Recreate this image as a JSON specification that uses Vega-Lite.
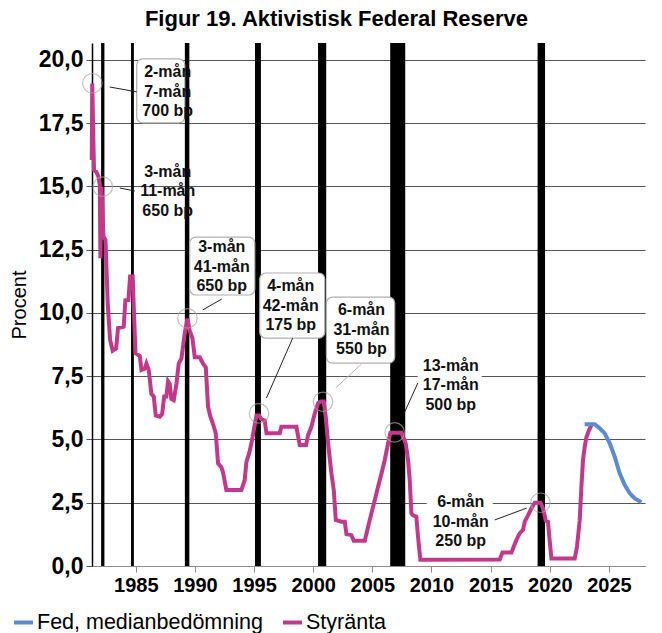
{
  "$schema": "https://vega.github.io/schema/vega-lite/v6.json",
  "description": "Figur 19. Aktivistisk Federal Reserve: styränta och Feds medianbedömning, med pauser markerade",
  "width": 553,
  "height": 523,
  "autosize": {"type": "none"},
  "padding": {"left": 92, "top": 43, "right": 17, "bottom": 67},
  "background": "white",
  "config": {"view": {"stroke": null}, "font": "Liberation Sans"},
  "title": {
    "text": "Figur 19. Aktivistisk Federal Reserve",
    "fontSize": 22,
    "fontWeight": "bold",
    "color": "black",
    "anchor": "middle",
    "dx": -32,
    "offset": 12
  },
  "datasets": {
    "pauser": [
      {"start": 1982.07, "end": 1982.35},
      {"start": 1984.6, "end": 1984.84},
      {"start": 1989.15, "end": 1989.53},
      {"start": 1995.08, "end": 1995.58},
      {"start": 2000.41, "end": 2001.1},
      {"start": 2006.51, "end": 2007.78},
      {"start": 2018.97, "end": 2019.6}
    ],
    "ranta": [
      {"year": 1981.28, "value": 16.05, "serie": "Styränta"},
      {"year": 1981.32, "value": 19.07, "serie": "Styränta"},
      {"year": 1981.47, "value": 15.65, "serie": "Styränta"},
      {"year": 1981.65, "value": 15.59, "serie": "Styränta"},
      {"year": 1981.85, "value": 15.39, "serie": "Styränta"},
      {"year": 1981.96, "value": 15.06, "serie": "Styränta"},
      {"year": 1982.01, "value": 12.16, "serie": "Styränta"},
      {"year": 1982.1, "value": 14.99, "serie": "Styränta"},
      {"year": 1982.27, "value": 13.02, "serie": "Styränta"},
      {"year": 1982.44, "value": 12.89, "serie": "Styränta"},
      {"year": 1982.63, "value": 10.38, "serie": "Styränta"},
      {"year": 1982.83, "value": 8.93, "serie": "Styränta"},
      {"year": 1983.05, "value": 8.51, "serie": "Styränta"},
      {"year": 1983.34, "value": 8.6, "serie": "Styränta"},
      {"year": 1983.5, "value": 9.4, "serie": "Styränta"},
      {"year": 1983.98, "value": 9.46, "serie": "Styränta"},
      {"year": 1984.12, "value": 10.5, "serie": "Styränta"},
      {"year": 1984.38, "value": 10.51, "serie": "Styränta"},
      {"year": 1984.52, "value": 11.44, "serie": "Styränta"},
      {"year": 1984.74, "value": 11.44, "serie": "Styränta"},
      {"year": 1984.86, "value": 9.86, "serie": "Styränta"},
      {"year": 1984.98, "value": 8.41, "serie": "Styränta"},
      {"year": 1985.34, "value": 8.3, "serie": "Styränta"},
      {"year": 1985.48, "value": 7.75, "serie": "Styränta"},
      {"year": 1985.76, "value": 7.8, "serie": "Styränta"},
      {"year": 1985.9, "value": 8.0, "serie": "Styränta"},
      {"year": 1986.1, "value": 7.75, "serie": "Styränta"},
      {"year": 1986.32, "value": 6.8, "serie": "Styränta"},
      {"year": 1986.52, "value": 6.7, "serie": "Styränta"},
      {"year": 1986.69, "value": 5.95, "serie": "Styränta"},
      {"year": 1987.03, "value": 5.9, "serie": "Styränta"},
      {"year": 1987.23, "value": 6.0, "serie": "Styränta"},
      {"year": 1987.4, "value": 6.7, "serie": "Styränta"},
      {"year": 1987.59, "value": 6.7, "serie": "Styränta"},
      {"year": 1987.73, "value": 7.3, "serie": "Styränta"},
      {"year": 1987.87, "value": 7.2, "serie": "Styränta"},
      {"year": 1988.01, "value": 6.6, "serie": "Styränta"},
      {"year": 1988.21, "value": 6.55, "serie": "Styränta"},
      {"year": 1988.44, "value": 7.2, "serie": "Styränta"},
      {"year": 1988.63, "value": 8.0, "serie": "Styränta"},
      {"year": 1988.86, "value": 8.2, "serie": "Styränta"},
      {"year": 1989.14, "value": 9.2, "serie": "Styränta"},
      {"year": 1989.37, "value": 9.78, "serie": "Styränta"},
      {"year": 1989.56, "value": 9.3, "serie": "Styränta"},
      {"year": 1989.79, "value": 9.0, "serie": "Styränta"},
      {"year": 1989.99, "value": 8.25, "serie": "Styränta"},
      {"year": 1990.41, "value": 8.25, "serie": "Styränta"},
      {"year": 1990.69, "value": 8.0, "serie": "Styränta"},
      {"year": 1990.92, "value": 7.85, "serie": "Styränta"},
      {"year": 1991.11, "value": 6.3, "serie": "Styränta"},
      {"year": 1991.31, "value": 5.9, "serie": "Styränta"},
      {"year": 1991.54, "value": 5.6, "serie": "Styränta"},
      {"year": 1991.76, "value": 5.25, "serie": "Styränta"},
      {"year": 1991.96, "value": 4.05, "serie": "Styränta"},
      {"year": 1992.24, "value": 3.9, "serie": "Styränta"},
      {"year": 1992.38, "value": 3.7, "serie": "Styränta"},
      {"year": 1992.66, "value": 3.0, "serie": "Styränta"},
      {"year": 1993.93, "value": 3.0, "serie": "Styränta"},
      {"year": 1994.21, "value": 3.4, "serie": "Styränta"},
      {"year": 1994.35, "value": 4.1, "serie": "Styränta"},
      {"year": 1994.58, "value": 4.45, "serie": "Styränta"},
      {"year": 1994.78, "value": 4.85, "serie": "Styränta"},
      {"year": 1994.97, "value": 5.35, "serie": "Styränta"},
      {"year": 1995.2, "value": 5.95, "serie": "Styränta"},
      {"year": 1995.43, "value": 5.95, "serie": "Styränta"},
      {"year": 1995.62, "value": 5.8, "serie": "Styränta"},
      {"year": 1995.9, "value": 5.75, "serie": "Styränta"},
      {"year": 1996.05, "value": 5.25, "serie": "Styränta"},
      {"year": 1997.17, "value": 5.25, "serie": "Styränta"},
      {"year": 1997.31, "value": 5.5, "serie": "Styränta"},
      {"year": 1998.58, "value": 5.5, "serie": "Styränta"},
      {"year": 1998.86, "value": 4.78, "serie": "Styränta"},
      {"year": 1999.4, "value": 4.78, "serie": "Styränta"},
      {"year": 1999.57, "value": 5.18, "serie": "Styränta"},
      {"year": 1999.85, "value": 5.5, "serie": "Styränta"},
      {"year": 2000.13, "value": 6.03, "serie": "Styränta"},
      {"year": 2000.41, "value": 6.43, "serie": "Styränta"},
      {"year": 2000.61, "value": 6.5, "serie": "Styränta"},
      {"year": 2000.89, "value": 6.5, "serie": "Styränta"},
      {"year": 2001.06, "value": 5.9, "serie": "Styränta"},
      {"year": 2001.26, "value": 4.85, "serie": "Styränta"},
      {"year": 2001.54, "value": 3.66, "serie": "Styränta"},
      {"year": 2001.74, "value": 3.0, "serie": "Styränta"},
      {"year": 2001.91, "value": 1.82, "serie": "Styränta"},
      {"year": 2002.39, "value": 1.75, "serie": "Styränta"},
      {"year": 2002.67, "value": 1.75, "serie": "Styränta"},
      {"year": 2002.81, "value": 1.26, "serie": "Styränta"},
      {"year": 2003.23, "value": 1.22, "serie": "Styränta"},
      {"year": 2003.43, "value": 1.0, "serie": "Styränta"},
      {"year": 2004.36, "value": 1.0, "serie": "Styränta"},
      {"year": 2004.64, "value": 1.55, "serie": "Styränta"},
      {"year": 2004.92, "value": 2.08, "serie": "Styränta"},
      {"year": 2005.2, "value": 2.6, "serie": "Styränta"},
      {"year": 2005.49, "value": 3.14, "serie": "Styränta"},
      {"year": 2005.77, "value": 3.66, "serie": "Styränta"},
      {"year": 2006.05, "value": 4.19, "serie": "Styränta"},
      {"year": 2006.33, "value": 4.85, "serie": "Styränta"},
      {"year": 2006.53, "value": 5.27, "serie": "Styränta"},
      {"year": 2007.46, "value": 5.27, "serie": "Styränta"},
      {"year": 2007.6, "value": 5.1, "serie": "Styränta"},
      {"year": 2007.82, "value": 4.85, "serie": "Styränta"},
      {"year": 2008.02, "value": 4.19, "serie": "Styränta"},
      {"year": 2008.16, "value": 3.4, "serie": "Styränta"},
      {"year": 2008.3, "value": 2.08, "serie": "Styränta"},
      {"year": 2008.44, "value": 2.0, "serie": "Styränta"},
      {"year": 2008.72, "value": 1.95, "serie": "Styränta"},
      {"year": 2008.86, "value": 1.16, "serie": "Styränta"},
      {"year": 2009.06, "value": 0.25, "serie": "Styränta"},
      {"year": 2015.77, "value": 0.26, "serie": "Styränta"},
      {"year": 2016.0, "value": 0.53, "serie": "Styränta"},
      {"year": 2016.76, "value": 0.53, "serie": "Styränta"},
      {"year": 2016.95, "value": 0.76, "serie": "Styränta"},
      {"year": 2017.18, "value": 1.03, "serie": "Styränta"},
      {"year": 2017.46, "value": 1.3, "serie": "Styränta"},
      {"year": 2017.74, "value": 1.42, "serie": "Styränta"},
      {"year": 2017.88, "value": 1.75, "serie": "Styränta"},
      {"year": 2018.16, "value": 2.0, "serie": "Styränta"},
      {"year": 2018.45, "value": 2.28, "serie": "Styränta"},
      {"year": 2018.73, "value": 2.5, "serie": "Styränta"},
      {"year": 2019.21, "value": 2.5, "serie": "Styränta"},
      {"year": 2019.43, "value": 2.28, "serie": "Styränta"},
      {"year": 2019.66, "value": 1.8, "serie": "Styränta"},
      {"year": 2019.85, "value": 1.75, "serie": "Styränta"},
      {"year": 2019.99, "value": 1.0, "serie": "Styränta"},
      {"year": 2020.14, "value": 0.3, "serie": "Styränta"},
      {"year": 2022.11, "value": 0.3, "serie": "Styränta"},
      {"year": 2022.3, "value": 0.76, "serie": "Styränta"},
      {"year": 2022.53, "value": 1.8, "serie": "Styränta"},
      {"year": 2022.67, "value": 3.1, "serie": "Styränta"},
      {"year": 2022.81, "value": 4.2, "serie": "Styränta"},
      {"year": 2022.95, "value": 4.7, "serie": "Styränta"},
      {"year": 2023.1, "value": 5.1, "serie": "Styränta"},
      {"year": 2023.32, "value": 5.37, "serie": "Styränta"},
      {"year": 2023.52, "value": 5.57, "serie": "Styränta"},
      {"year": 2022.95, "value": 5.6, "serie": "Fed, medianbedömning"},
      {"year": 2023.8, "value": 5.6, "serie": "Fed, medianbedömning"},
      {"year": 2024.22, "value": 5.44, "serie": "Fed, medianbedömning"},
      {"year": 2024.65, "value": 5.24, "serie": "Fed, medianbedömning"},
      {"year": 2025.07, "value": 4.85, "serie": "Fed, medianbedömning"},
      {"year": 2025.49, "value": 4.32, "serie": "Fed, medianbedömning"},
      {"year": 2025.91, "value": 3.66, "serie": "Fed, medianbedömning"},
      {"year": 2026.34, "value": 3.2, "serie": "Fed, medianbedömning"},
      {"year": 2026.76, "value": 2.87, "serie": "Fed, medianbedömning"},
      {"year": 2027.18, "value": 2.67, "serie": "Fed, medianbedömning"},
      {"year": 2027.75, "value": 2.52, "serie": "Fed, medianbedömning"}
    ],
    "rutor": [
      {"x1": 1985.08, "x2": 1989.14, "y1": 20.04, "y2": 17.51, "typ": "ram"},
      {"x1": 1989.56, "x2": 1995.06, "y1": 13.0, "y2": 10.71, "typ": "ram"},
      {"x1": 1995.48, "x2": 2000.98, "y1": 11.58, "y2": 9.01, "typ": "ram"},
      {"x1": 2001.12, "x2": 2006.89, "y1": 10.63, "y2": 8.02, "typ": "ram"},
      {"x1": 2008.84, "x2": 2014.25, "y1": 8.34, "y2": 6.01, "typ": "fri"},
      {"x1": 2009.6, "x2": 2015.18, "y1": 3.0, "y2": 0.55, "typ": "fri"}
    ],
    "noter": [
      {"id": 1, "text": "2-mån\n7-mån\n700 bp", "tx": 1987.7, "ty": 18.74, "cx": 1981.33, "cy": 19.08, "lx1": 1982.8, "ly1": 18.93, "lx2": 1985.08, "ly2": 18.74},
      {"id": 2, "text": "3-mån\n11-mån\n650 bp", "tx": 1987.7, "ty": 14.82, "cx": 1982.21, "cy": 14.99, "lx1": 1983.65, "ly1": 14.94, "lx2": 1984.92, "ly2": 14.82},
      {"id": 3, "text": "3-mån\n41-mån\n650 bp", "tx": 1992.27, "ty": 11.82, "cx": 1989.37, "cy": 9.79, "lx1": 1990.66, "ly1": 10.12, "lx2": 1992.27, "ly2": 10.55},
      {"id": 4, "text": "4-mån\n42-mån\n175 bp", "tx": 1998.1, "ty": 10.28, "cx": 1995.42, "cy": 6.03, "lx1": 1996.05, "ly1": 6.64, "lx2": 1998.27, "ly2": 9.01},
      {"id": 5, "text": "6-mån\n31-mån\n550 bp", "tx": 2004.08, "ty": 9.33, "cx": 2000.83, "cy": 6.49, "lx1": 2001.91, "ly1": 7.04, "lx2": 2004.08, "ly2": 7.98},
      {"id": 6, "text": "13-mån\n17-mån\n500 bp", "tx": 2011.63, "ty": 7.15, "cx": 2006.89, "cy": 5.28, "lx1": 2007.74, "ly1": 6.09, "lx2": 2008.84, "ly2": 7.23},
      {"id": 7, "text": "6-mån\n10-mån\n250 bp", "tx": 2012.47, "ty": 1.74, "cx": 2019.21, "cy": 2.5, "lx1": 2015.35, "ly1": 1.82, "lx2": 2018.05, "ly2": 2.29}
    ]
  },
  "layer": [
    {
      "data": {"name": "pauser"},
      "mark": {"type": "rect", "color": "black"},
      "encoding": {
        "x": {
          "field": "start",
          "type": "quantitative",
          "scale": {"domain": [1981.3, 2028.05], "nice": false, "zero": false},
          "axis": {
            "values": [1985, 1990, 1995, 2000, 2005, 2010, 2015, 2020, 2025],
            "format": "d",
            "title": null,
            "grid": false,
            "labelFontSize": 20,
            "labelFontWeight": "bold",
            "labelColor": "black",
            "labelPadding": 3,
            "labelFlush": false,
            "domainColor": "#8c8c8c",
            "tickColor": "#8c8c8c",
            "tickSize": 6
          }
        },
        "x2": {"field": "end"}
      }
    },
    {
      "data": {"name": "rutor"},
      "transform": [{"filter": "datum.typ == 'ram'"}],
      "mark": {"type": "rect", "fill": "white", "stroke": "#b0b0b0", "strokeWidth": 1.2, "cornerRadius": 6},
      "encoding": {
        "x": {"field": "x1", "type": "quantitative", "title": null},
        "x2": {"field": "x2"},
        "y": {
          "field": "y1",
          "type": "quantitative",
          "scale": {"domain": [0, 20.67], "nice": false},
          "axis": {
            "values": [0, 2.5, 5, 7.5, 10, 12.5, 15, 17.5, 20],
            "labelExpr": "replace(format(datum.value, '.1f'), '.', ',')",
            "title": "Procent",
            "titleFontSize": 20,
            "titleFontWeight": "normal",
            "titleColor": "black",
            "titlePadding": 9,
            "labelFontSize": 23,
            "labelFontWeight": "bold",
            "labelColor": "black",
            "labelPadding": 3,
            "grid": true,
            "gridColor": "#555555",
            "gridWidth": 1,
            "domainColor": "black",
            "domainWidth": 1.5,
            "tickColor": "#555555",
            "tickSize": 6
          }
        },
        "y2": {"field": "y2"}
      }
    },
    {
      "data": {"name": "rutor"},
      "transform": [{"filter": "datum.typ == 'fri'"}],
      "mark": {"type": "rect", "fill": "white"},
      "encoding": {
        "x": {"field": "x1", "type": "quantitative", "title": null},
        "x2": {"field": "x2"},
        "y": {"field": "y1", "type": "quantitative", "title": "Procent"},
        "y2": {"field": "y2"}
      }
    },
    {
      "data": {"name": "noter"},
      "mark": {"type": "rule", "strokeWidth": 1},
      "encoding": {
        "x": {"field": "lx1", "type": "quantitative", "title": null},
        "x2": {"field": "lx2"},
        "y": {"field": "ly1", "type": "quantitative", "title": "Procent"},
        "y2": {"field": "ly2"},
        "color": {"condition": {"test": "datum.id == 5", "value": "#b5b5b5"}, "value": "#222222"}
      }
    },
    {
      "data": {"name": "ranta"},
      "mark": {"type": "line", "strokeWidth": 4},
      "encoding": {
        "x": {"field": "year", "type": "quantitative", "title": null},
        "y": {"field": "value", "type": "quantitative", "title": "Procent"},
        "color": {
          "field": "serie",
          "type": "nominal",
          "scale": {"domain": ["Fed, medianbedömning", "Styränta"], "range": ["#5B8BD0", "#C2388A"]},
          "legend": {
            "orient": "none",
            "legendX": -80,
            "legendY": 568,
            "direction": "horizontal",
            "title": null,
            "symbolType": "stroke",
            "symbolStrokeWidth": 4,
            "symbolSize": 361,
            "labelFontSize": 21.5,
            "labelColor": "black",
            "labelOffset": 2,
            "columnPadding": 12,
            "labelLimit": 400
          }
        }
      }
    },
    {
      "data": {"name": "noter"},
      "mark": {"type": "point", "shape": "circle", "filled": false, "stroke": "#a6a6a6", "strokeWidth": 1.2, "size": 380},
      "encoding": {
        "x": {"field": "cx", "type": "quantitative", "title": null},
        "y": {"field": "cy", "type": "quantitative", "title": "Procent"}
      }
    },
    {
      "data": {"name": "noter"},
      "mark": {"type": "text", "lineBreak": "\n", "fontSize": 16, "fontWeight": "bold", "lineHeight": 19.5, "align": "center", "baseline": "middle", "dy": -19.5, "color": "#111111"},
      "encoding": {
        "x": {"field": "tx", "type": "quantitative", "title": null},
        "y": {"field": "ty", "type": "quantitative", "title": "Procent"},
        "text": {"field": "text"}
      }
    }
  ]
}
